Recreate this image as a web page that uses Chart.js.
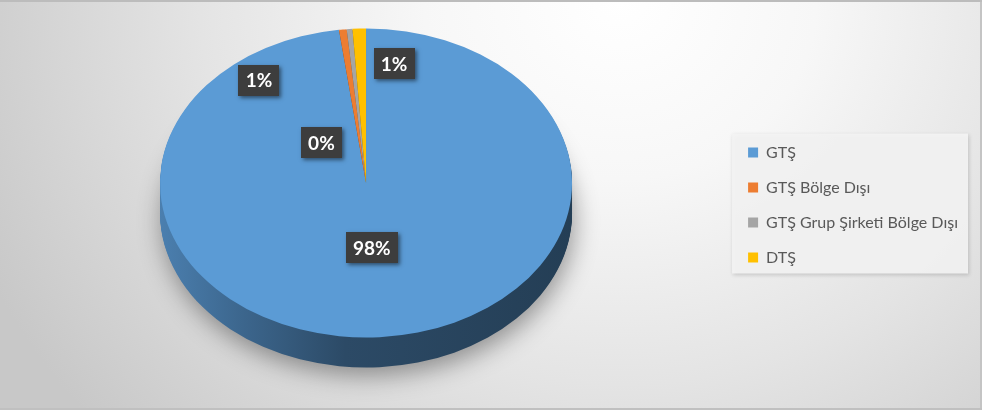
<!DOCTYPE html>
<html lang="tr">
<head>
<meta charset="utf-8">
<title>GTŞ / DTŞ dağılımı</title>
<script src="https://cdn.jsdelivr.net/npm/chart.js@4.4.1/dist/chart.umd.min.js"></script>
<style>
  html, body { margin: 0; padding: 0; }
  body { width: 982px; height: 410px; overflow: hidden; }
  #frame {
    position: relative; width: 982px; height: 410px;
    background: radial-gradient(ellipse 700px 640px at 620px 0px, #ffffff 0%, #f7f7f7 28%, #e4e4e4 60%, #c8c8c8 100%);
  }
  #frame::after {
    content: ""; position: absolute; inset: 0; pointer-events: none;
    box-shadow: inset 0 2px 0 #bcbcbc, inset 0 -2px 0 #c0c0c0, inset -2px 0 0 #c4c4c4;
  }
  #c { position: absolute; left: 0; top: 0; }
</style>
</head>
<body>
<div id="frame"><canvas id="c" width="982" height="410"></canvas></div>
<script>
// ---- data ----
const categories = ['GTŞ', 'GTŞ Bölge Dışı', 'GTŞ Grup Şirketi Bölge Dışı', 'DTŞ'];
const shares = [97.9, 0.6, 0.45, 1.05];
const shareTotal = shares.reduce((a, b) => a + b, 0);
const percentLabels = shares.map(v => Math.round(v / shareTotal * 100) + '%');

// ---- helpers ----
function shade(hex, f) {
  const n = parseInt(hex.slice(1), 16);
  const r = Math.round(((n >> 16) & 255) * f), g = Math.round(((n >> 8) & 255) * f), b = Math.round((n & 255) * f);
  return `rgb(${r},${g},${b})`;
}
function drawArcWith(arc, ctx, fill) {
  const fake = Object.create(arc);
  Object.defineProperty(fake, 'options', { value: Object.assign({}, arc.options, { backgroundColor: fill }), writable: true });
  Chart.ArcElement.prototype.draw.call(fake, ctx);
}

// ---- 3D pie + labels + legend panel plugin ----
const pie3d = {
  id: 'pie3d',
  beforeDraw(chart, args, o) {
    const lg = chart.legend;
    if (!lg || !lg.legendHitBoxes || !lg.legendHitBoxes.length) return;
    const hb = lg.legendHitBoxes;
    const x0 = Math.min(...hb.map(h => h.left)) - o.legendPad.left;
    const x1 = Math.max(...hb.map(h => h.left + h.width)) + o.legendPad.right;
    const y0 = hb[0].top + hb[0].height / 2 - o.legendPad.top;
    const last = hb[hb.length - 1];
    const y1 = last.top + last.height / 2 + o.legendPad.bottom;
    const ctx = chart.ctx;
    ctx.save();
    ctx.shadowColor = 'rgba(0,0,0,0.18)';
    ctx.shadowBlur = 4; ctx.shadowOffsetX = 1; ctx.shadowOffsetY = 1;
    ctx.fillStyle = o.legendFill;
    ctx.fillRect(x0, y0, x1 - x0, y1 - y0);
    ctx.restore();
  },
  beforeDatasetsDraw(chart, args, o) {
    const arcs = chart.getDatasetMeta(0).data;
    if (!arcs.length) return;
    const ctx = chart.ctx;
    const cx = arcs[0].x, cy = arcs[0].y, R = arcs[0].outerRadius;
    const project = (dy) => {
      ctx.translate(0, dy);
      ctx.translate(cx, cy - o.lift);
      ctx.scale(1, o.tilt);
      ctx.translate(-cx, -cy);
    };
    const colors = chart.data.datasets[0].backgroundColor;
    const sideFills = arcs.map((a, i) => {
      const g = ctx.createLinearGradient(cx - R, 0, cx + R, 0);
      o.sideShades.forEach(([p, f]) => g.addColorStop(p, shade(colors[i], f)));
      return g;
    });
    for (let d = o.depth; d >= 1; d--) {
      ctx.save();
      if (d === o.depth) {
        ctx.shadowColor = 'rgba(0,0,0,0.38)';
        ctx.shadowBlur = 24; ctx.shadowOffsetX = 2; ctx.shadowOffsetY = 8;
      }
      project(d);
      arcs.forEach((a, i) => drawArcWith(a, ctx, sideFills[i]));
      ctx.restore();
    }
    ctx.save();
    project(0);
    arcs.forEach(a => a.draw(ctx));
    ctx.restore();
    return false;
  },
  afterDraw(chart, args, o) {
    const arcs = chart.getDatasetMeta(0).data;
    const ctx = chart.ctx;
    ctx.save();
    ctx.font = `bold ${o.labelFontSize}px ${o.labelFont}`;
    ctx.textAlign = 'center';
    ctx.textBaseline = 'middle';
    arcs.forEach((arc, i) => {
      const mid = (arc.startAngle + arc.endAngle) / 2 + o.labelAngleShift[i] * Math.PI / 180;
      const r = arc.outerRadius * o.labelRadius[i];
      const x = arc.x + Math.cos(mid) * r;
      const y = arc.y - o.lift + Math.sin(mid) * r * o.tilt;
      const text = percentLabels[i];
      const w = Math.round(ctx.measureText(text).width + 2 * o.labelPadX);
      const h = o.labelBoxH;
      ctx.shadowColor = 'rgba(0,0,0,0.5)';
      ctx.shadowBlur = 4; ctx.shadowOffsetX = 2; ctx.shadowOffsetY = 2;
      ctx.fillStyle = '#3d3d3d';
      ctx.fillRect(Math.round(x - w / 2), Math.round(y - h / 2), w, h);
      ctx.shadowColor = 'transparent';
      ctx.fillStyle = '#ffffff';
      ctx.fillText(text, x, y + 1);
    });
    ctx.restore();
  }
};

new Chart(document.getElementById('c'), {
  type: 'pie',
  data: {
    labels: categories,
    datasets: [{
      data: shares,
      backgroundColor: ['#5b9bd5', '#ed7d31', '#a5a5a5', '#ffc000'],
      borderWidth: 0,
      radius: 206
    }]
  },
  plugins: [pie3d],
  options: {
    responsive: false,
    animation: false,
    events: [],
    layout: { padding: { left: 3, right: 14, top: 0, bottom: 0 } },
    plugins: {
      tooltip: { enabled: false },
      legend: {
        position: 'right',
        align: 'center',
        labels: {
          boxWidth: 10, boxHeight: 10, padding: 19,
          color: '#595959',
          font: { family: 'Lato', size: 16 }
        }
      },
      pie3d: {
        tilt: 0.75, depth: 30, lift: 22,
        sideShades: [[0, 0.82], [0.2, 0.66], [0.45, 0.48], [1, 0.4]],
        labelFont: 'Lato', labelFontSize: 19, labelPadX: 7, labelBoxH: 31,
        labelAngleShift: [0, -31.5, -35, 11.9],
        labelRadius: [0.42, 0.845, 0.34, 0.783],
        legendFill: 'rgba(243,243,243,0.92)',
        legendPad: { left: 16, right: 10, top: 19, bottom: 16 }
      }
    }
  }
});
</script>
</body>
</html>
